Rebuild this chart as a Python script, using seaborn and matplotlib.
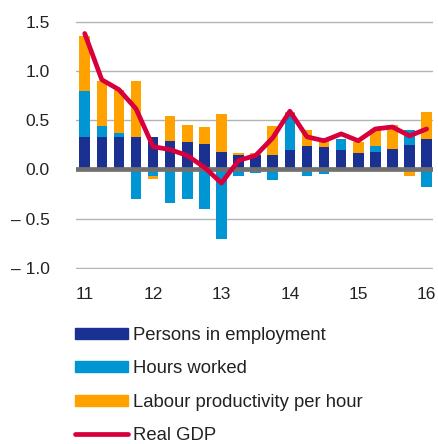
import numpy as np
import pandas as pd
import matplotlib
matplotlib.use("Agg")
import matplotlib.pyplot as plt
import seaborn as sns
from matplotlib.patches import Patch
from matplotlib.lines import Line2D

# Quarterly contributions, 2011 Q1 - 2016 Q1
quarters = list(range(21))
persons = [0.33, 0.33, 0.33, 0.33, 0.325, 0.284, 0.277, 0.254, 0.176, 0.145, 0.145,
           0.145, 0.20, 0.24, 0.223, 0.20, 0.17, 0.18, 0.21, 0.243, 0.304]
hours = [0.47, 0.11, 0.04, -0.30, -0.07, -0.345, -0.304, -0.406, -0.71, -0.07, -0.037,
         -0.108, 0.37, -0.064, -0.044, 0.11, 0.0, 0.06, 0.0, 0.157, -0.18]
productivity = [0.55, 0.46, 0.44, 0.57, -0.03, 0.256, 0.169, 0.176, 0.389, 0.02, 0.021,
                0.291, 0.01, 0.155, 0.097, 0.0, 0.11, 0.17, 0.236, -0.07, 0.276]
gdp = [1.38, 0.91, 0.81, 0.615, 0.23, 0.20, 0.14, 0.02, -0.14, 0.09, 0.14,
       0.32, 0.59, 0.33, 0.29, 0.36, 0.29, 0.41, 0.43, 0.34, 0.41]
year_labels = ["11", "12", "13", "14", "15", "16"]
year_ticks = [0, 4, 8, 12, 16, 20]
y_ticks = [-1.0, -0.5, 0.0, 0.5, 1.0, 1.5]
y_labels = ["\u2013 1.0", "\u2013 0.5", "0.0", "0.5", "1.0", "1.5"]

C_PERS = "#1b3192"
C_HOURS = "#0095d3"
C_PROD = "#ffa200"
C_GDP = "#d7003c"

df = pd.DataFrame({"q": quarters, "persons": persons, "hours": hours,
                   "prod": productivity, "gdp": gdp})
# stacking: positives go up from zero, negatives go down from zero
df["hours_bottom"] = np.where(df["hours"] >= 0, df["persons"], 0.0)
df["prod_bottom"] = np.where(df["prod"] >= 0,
                             df["persons"] + df["hours"].clip(lower=0),
                             df["hours"].clip(upper=0))

sns.set_style("white")
plt.rcParams["font.family"] = ["Liberation Sans", "DejaVu Sans"]

fig = plt.figure(figsize=(4.38, 4.44), dpi=100)
ax = fig.add_axes([0.1735, 0.3948, 0.815, 0.5586])

for y in y_ticks:
    if y != 0:
        ax.axhline(y, color="#b3b3b3", lw=1.0, zorder=0)

bar_kw = dict(width=0.62, saturation=1, errorbar=None, linewidth=0, ax=ax)
sns.barplot(data=df, x="q", y="persons", color=C_PERS, **bar_kw)
sns.barplot(data=df, x="q", y="hours", bottom=df["hours_bottom"], color=C_HOURS, **bar_kw)
sns.barplot(data=df, x="q", y="prod", bottom=df["prod_bottom"], color=C_PROD, **bar_kw)

ax.axhline(0, color="#707070", lw=3.4, zorder=3)
sns.lineplot(x=df["q"], y=df["gdp"], color=C_GDP, lw=3.4, ax=ax, zorder=4,
             solid_capstyle="round", solid_joinstyle="round")

ax.set_xlim(-0.51, 20.37)
ax.set_ylim(-1.01, 1.51)
ax.set_xticks(year_ticks)
ax.set_xticklabels(year_labels, fontsize=12.5)
ax.set_yticks(y_ticks)
ax.set_yticklabels(y_labels, fontsize=12.5)
ax.tick_params(axis="y", length=0, pad=19, colors="#222222")
ax.tick_params(axis="x", length=0, pad=13, colors="#222222")
ax.set_xlabel("")
ax.set_ylabel("")
sns.despine(ax=ax, left=True, bottom=True)

handles = [Patch(color=C_PERS), Patch(color=C_HOURS), Patch(color=C_PROD),
           Line2D([], [], color=C_GDP, lw=3.4, solid_capstyle="round")]
labels = ["Persons in employment", "Hours worked", "Labour productivity per hour", "Real GDP"]
fig.legend(handles, labels, loc="upper left", bbox_to_anchor=(0.171, 0.2644),
           frameon=False, fontsize=13.3, handlelength=2.87, handleheight=0.54,
           handletextpad=0.27, labelspacing=0.9, borderpad=0, borderaxespad=0,
           labelcolor="#222222")

fig.savefig("out.png", dpi=100)
